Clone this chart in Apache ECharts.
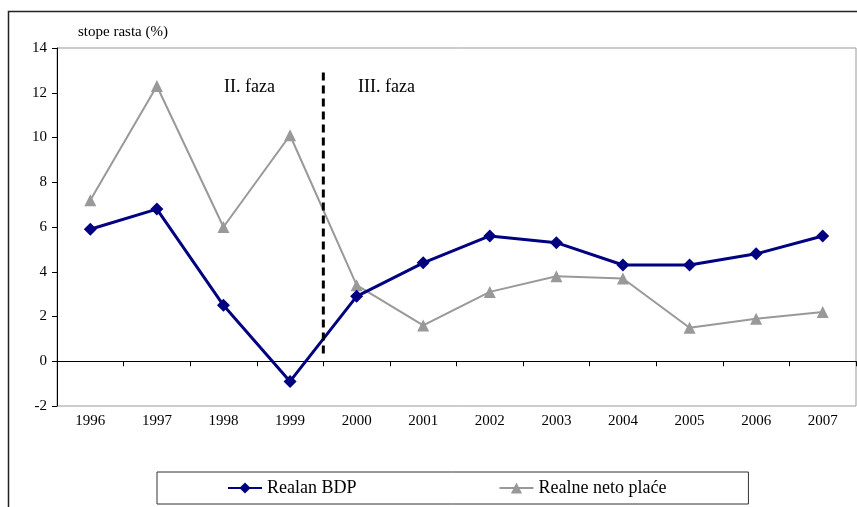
<!DOCTYPE html>
<html>
<head>
<meta charset="utf-8">
<script src="https://cdn.jsdelivr.net/npm/echarts@6/dist/echarts.min.js"></script>
<style>
  html, body { margin: 0; padding: 0; background: #fff; }
  #chart { width: 857px; height: 507px; }
</style>
</head>
<body>
<div id="chart"></div>
<script>
// godine
var years = ['1996', '1997', '1998', '1999', '2000', '2001', '2002', '2003', '2004', '2005', '2006', '2007'];
// stope rasta (%)
var realanBDP = [5.9, 6.8, 2.5, -0.9, 2.9, 4.4, 5.6, 5.3, 4.3, 4.3, 4.8, 5.6];
var realnePlace = [7.2, 12.3, 6.0, 10.1, 3.4, 1.6, 3.1, 3.8, 3.7, 1.5, 1.9, 2.2];
// granica faza (izmedju 1999. i 2000.)
var fazaGranica = [[3.5, 12.9], [3.5, 0.3]];
var yTicks = { min: -2, max: 14, interval: 2 };

var serif = '"Liberation Serif", "DejaVu Serif", serif';
var chart = echarts.init(document.getElementById('chart'));

var option = {
    animation: false,
    backgroundColor: '#fff',
    textStyle: { fontFamily: serif },
    graphic: [
        { type: 'rect', left: 6, top: 9, shape: { width: 900, height: 600 },
          style: { fill: 'none', stroke: '#222', lineWidth: 1.5 }, silent: true, z: -1 },
        { type: 'text', left: 224, top: 78,
          style: { text: 'II. faza', font: '18px ' + serif, fill: '#000' } },
        { type: 'text', left: 358, top: 78,
          style: { text: 'III. faza', font: '18px ' + serif, fill: '#000' } }
    ],
    grid: {
        left: 57, top: 48, right: 1, bottom: 101,
        show: true, borderColor: '#999', borderWidth: 1
    },
    legend: {
        left: 157, top: 472,
        padding: [7, 82, 7, 70],
        itemGap: 142,
        itemWidth: 34, itemHeight: 14,
        borderColor: '#333', borderWidth: 1,
        textStyle: { fontFamily: serif, fontSize: 18, color: '#000' },
        data: ['Realan BDP', 'Realne neto plaće']
    },
    xAxis: [{
        type: 'category',
        data: years,
        boundaryGap: true,
        axisLine: { onZero: true, lineStyle: { color: '#000', width: 1 } },
        axisTick: { show: true, length: 5, lineStyle: { color: '#000' } },
        axisLabel: { show: false },
        splitLine: { show: false }
    }, {
        type: 'category',
        data: years,
        position: 'bottom',
        axisLine: { show: false, onZero: false },
        axisTick: { show: false },
        axisLabel: { color: '#000', fontFamily: serif, fontSize: 15, margin: 8 }
    }, {
        type: 'value',
        min: -0.5, max: 11.5,
        show: false
    }],
    yAxis: {
        type: 'value',
        min: yTicks.min, max: yTicks.max, interval: yTicks.interval,
        name: 'stope rasta (%)',
        nameLocation: 'end',
        nameGap: 8,
        nameTextStyle: { fontFamily: serif, fontSize: 15, color: '#000', align: 'left', padding: [0, 0, 0, 21] },
        axisLine: { show: true, onZero: false, lineStyle: { color: '#000', width: 1 } },
        axisTick: { show: true, length: 5, lineStyle: { color: '#000' } },
        axisLabel: { color: '#000', fontFamily: serif, fontSize: 15, margin: 10 },
        splitLine: { show: false }
    },
    series: [{
        name: 'Realne neto plaće',
        type: 'line',
        xAxisIndex: 0,
        data: realnePlace,
        symbol: 'triangle',
        symbolSize: 12,
        itemStyle: { color: '#999' },
        lineStyle: { color: '#999', width: 2 },
        z: 3
    }, {
        name: 'Realan BDP',
        type: 'line',
        xAxisIndex: 0,
        data: realanBDP,
        symbol: 'diamond',
        symbolSize: 13,
        itemStyle: { color: '#000080' },
        lineStyle: { color: '#000080', width: 3 },
        z: 4
    }, {
        name: 'granica',
        type: 'line',
        xAxisIndex: 2,
        data: fazaGranica,
        symbol: 'none',
        lineStyle: { color: '#000', width: 3, type: [8, 5] },
        z: 5
    }]
};

chart.setOption(option);
</script>
</body>
</html>
